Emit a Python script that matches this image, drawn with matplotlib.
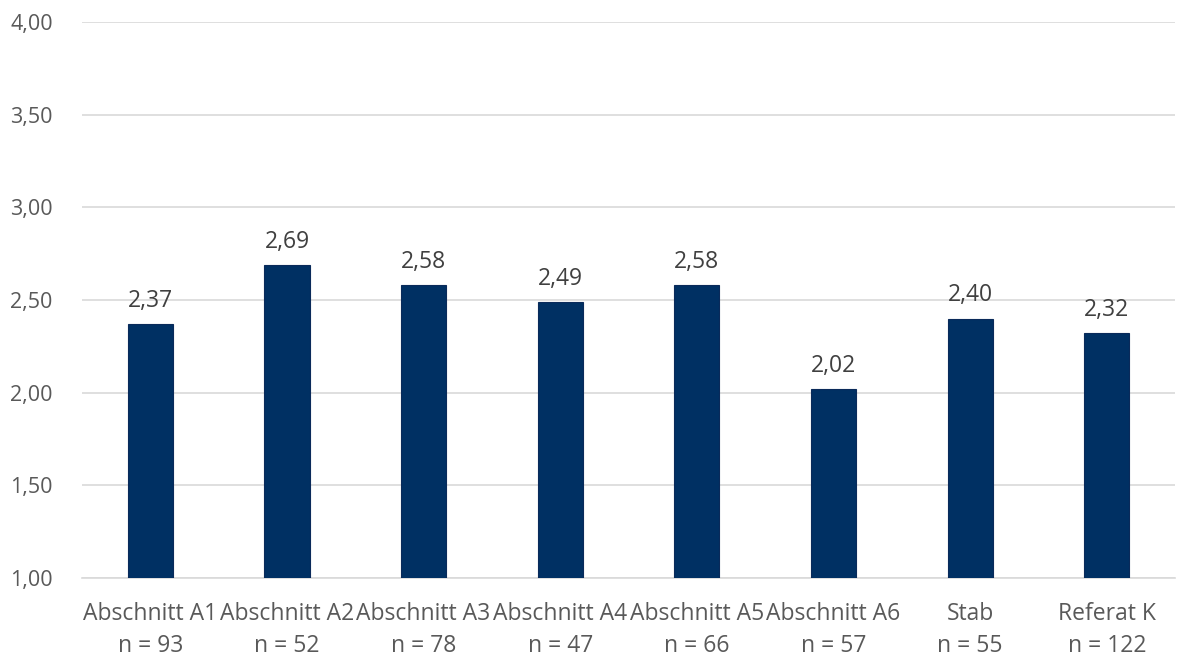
import matplotlib.pyplot as plt
import numpy as np

plt.rcParams['font.family'] = ['Open Sans', 'DejaVu Sans']

categories = ['Abschnitt A1', 'Abschnitt A2', 'Abschnitt A3', 'Abschnitt A4',
              'Abschnitt A5', 'Abschnitt A6', 'Stab', 'Referat K']
counts = [93, 52, 78, 47, 66, 57, 55, 122]
values = [2.37, 2.69, 2.58, 2.49, 2.58, 2.02, 2.40, 2.32]
yticks = [1.0, 1.5, 2.0, 2.5, 3.0, 3.5, 4.0]

text_color = '#595959'
bar_color = '#003063'
fs = 16.5

fig = plt.figure(figsize=(11.78, 6.59), dpi=100)
ax = fig.add_axes([0.0696, 0.1229, 0.928, 0.8437])

x = np.arange(len(categories))
bars = ax.bar(x, values, width=0.33, color=bar_color, edgecolor='#0a2a5a',
              linewidth=0.8, zorder=3)

for xi, v in zip(x, values):
    ax.text(xi, v + 0.06, f'{v:.2f}'.replace('.', ','), ha='center', va='bottom',
            fontsize=fs, color='#404040')

ax.set_ylim(1.0, 4.0)
ax.set_xlim(-0.5, len(categories) - 0.5)
ax.set_yticks(yticks)
ax.set_yticklabels([f'{t:.2f}'.replace('.', ',') for t in yticks], fontsize=15.5,
                   color=text_color)
ax.set_xticks(x)
ax.set_xticklabels([f'{c}\nn = {n}' for c, n in zip(categories, counts)],
                   fontsize=fs, color=text_color, linespacing=1.45)
ax.tick_params(axis='both', length=0)
ax.tick_params(axis='x', pad=17)
ax.tick_params(axis='y', pad=21)

ax.grid(axis='y', color='#d9d9d9', linewidth=1.2, zorder=0)
for s in ['top', 'right', 'left']:
    ax.spines[s].set_visible(False)
ax.spines['bottom'].set_color('#d9d9d9')
ax.spines['bottom'].set_linewidth(1.2)

fig.savefig('out.png', dpi=100)
